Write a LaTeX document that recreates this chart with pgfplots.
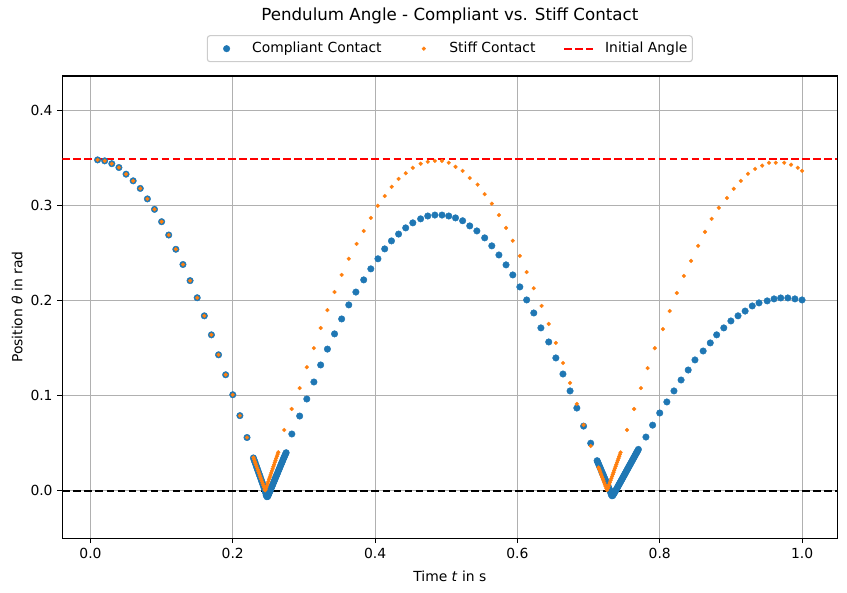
\documentclass[border=0pt]{standalone}
\usepackage{fontspec}
\setmainfont{DejaVu Sans}
\usepackage{pgfplots}
\pgfplotsset{compat=1.18}
\definecolor{mplblue}{HTML}{1F77B4}
\definecolor{mplorange}{HTML}{FF7F0E}
\definecolor{gridgray}{HTML}{B0B0B0}
\definecolor{legframe}{HTML}{CCCCCC}
\pgfplotsset{
  markleg/.style={legend image code/.code={\path (0pt,0pt) (20pt,0pt); \draw[##1] plot coordinates {(10pt,0pt)};}},
  lineleg/.style={legend image code/.code={\draw[##1] (0pt,0pt) -- (20.6pt,0pt);}},
}
\begin{document}
\begin{tikzpicture}
\begin{axis}[
  name=ax,
  scale only axis,
  width=558pt, height=332.9pt,
  xmin=-0.0395, xmax=1.0495,
  ymin=-0.05, ymax=0.4363,
  xtick={0,0.2,0.4,0.6,0.8,1.0},
  ytick={0,0.1,0.2,0.3,0.4},
  /pgf/number format/assume math mode=true,
  xticklabel style={/pgf/number format/.cd, fixed, fixed zerofill, precision=1},
  yticklabel style={/pgf/number format/.cd, fixed, fixed zerofill, precision=1},
  tick label style={font=\fontsize{10}{12}\selectfont},
  tick align=outside,
  tick pos=left,
  major tick length=3.5pt,
  every tick/.style={black, line width=0.8pt},
  axis line style={line width=0.8pt},
  grid=major,
  major grid style={gridgray, line width=0.8pt},
  title={Pendulum Angle - Compliant vs. Stiff Contact},
  title style={font=\fontsize{12}{14}\selectfont, at={(axis description cs:0.5,1)}, anchor=center, yshift=37.4pt},
  xlabel={Time \textit{t} in s},
  ylabel={Position \textit{θ} in rad},
  xlabel style={font=\fontsize{10}{12}\selectfont, at={(axis description cs:0.5,-0.0815)}, anchor=center},
  ylabel style={font=\fontsize{10}{12}\selectfont, at={(axis description cs:-0.0584,0.5)}, anchor=center},
  legend columns=3,
  legend style={
    at={(axis description cs:0.5,1)}, anchor=south, yshift=9.9pt,
    draw=legframe, line width=0.8pt, rounded corners=2pt, fill=white,
    font=\fontsize{10}{12}\selectfont,
    inner xsep=3.5pt, inner ysep=2.8pt,
    nodes={inner xsep=0pt, inner ysep=2pt},
    /tikz/every odd column/.append style={column sep=8pt},
    /tikz/every even column/.append style={column sep=20pt},
  },
]
% initial angle line (drawn below points)
\addplot[red, line width=1.5pt, dash pattern=on 5.55pt off 2.4pt, forget plot] coordinates {(-0.0395,0.3491) (1.0495,0.3491)};

% Compliant contact
\addplot[mplblue, only marks, mark=*, mark size=2.35pt, mark options={solid, draw=mplblue, fill=mplblue, line width=0.3pt}, markleg]
coordinates {
(0.01,0.348)(0.02,0.347)(0.03,0.344)(0.04,0.340)(0.05,0.333)(0.06,0.326)(0.07,0.318)(0.08,0.307)(0.09,0.296)(0.10,0.283)(0.11,0.269)(0.12,0.254)(0.13,0.238)(0.14,0.221)(0.15,0.203)(0.16,0.184)(0.17,0.164)(0.18,0.143)(0.19,0.122)(0.20,0.101)(0.21,0.079)(0.22,0.056)
(0.229,0.0345)(0.230,0.0324)(0.231,0.0303)(0.232,0.0282)(0.233,0.0261)(0.234,0.0240)(0.235,0.0219)(0.236,0.0198)(0.237,0.0177)(0.238,0.0156)(0.239,0.0135)(0.240,0.0114)(0.241,0.0093)(0.242,0.0072)(0.243,0.0051)(0.244,0.0030)(0.245,0.0008)(0.246,-0.0020)(0.247,-0.0048)(0.248,-0.0063)(0.249,-0.0060)(0.250,-0.0045)(0.251,-0.0027)(0.252,-0.0009)(0.253,0.0009)(0.254,0.0027)(0.255,0.0045)(0.256,0.0063)(0.257,0.0081)(0.258,0.0099)(0.259,0.0117)(0.260,0.0135)(0.261,0.0153)(0.262,0.0171)(0.263,0.0189)(0.264,0.0207)(0.265,0.0225)(0.266,0.0243)(0.267,0.0261)(0.268,0.0279)(0.269,0.0297)(0.270,0.0315)(0.271,0.0333)(0.272,0.0350)(0.273,0.0367)(0.274,0.0384)(0.275,0.0400)
(0.283,0.0597)(0.294,0.0786)(0.304,0.0965)(0.314,0.1144)(0.3235,0.1323)(0.333,0.149)(0.343,0.165)(0.353,0.1807)(0.363,0.1955)(0.373,0.209)(0.384,0.2218)(0.394,0.2334)(0.404,0.244)(0.4135,0.2544)(0.423,0.2628)(0.433,0.270)(0.443,0.2765)(0.453,0.2818)(0.464,0.286)(0.474,0.289)(0.484,0.290)(0.494,0.290)(0.5035,0.289)(0.513,0.287)(0.523,0.284)(0.533,0.2786)(0.543,0.2733)(0.554,0.266)(0.564,0.2576)(0.574,0.248)(0.584,0.2376)(0.5935,0.227)(0.6034,0.2144)(0.613,0.2007)(0.623,0.187)(0.633,0.1713)(0.644,0.1565)(0.654,0.1397)(0.664,0.1228)(0.674,0.105)(0.6835,0.087)(0.693,0.068)(0.703,0.050)
(0.712,0.0316)(0.713,0.0299)(0.714,0.0281)(0.715,0.0264)(0.716,0.0246)(0.717,0.0229)(0.718,0.0211)(0.719,0.0194)(0.720,0.0176)(0.721,0.0159)(0.722,0.0141)(0.723,0.0124)(0.724,0.0106)(0.725,0.0089)(0.726,0.0071)(0.727,0.0054)(0.728,0.0036)(0.729,0.0019)(0.730,0.0001)(0.731,-0.0020)(0.732,-0.0042)(0.733,-0.0053)(0.734,-0.0050)(0.735,-0.0038)(0.736,-0.0025)(0.737,-0.0012)(0.738,0.0001)(0.739,0.0014)(0.740,0.0027)(0.741,0.0041)(0.742,0.0055)(0.743,0.0068)(0.744,0.0082)(0.745,0.0095)(0.746,0.0109)(0.747,0.0122)(0.748,0.0136)(0.749,0.0150)(0.750,0.0163)(0.751,0.0177)(0.752,0.0190)(0.753,0.0204)(0.754,0.0218)(0.755,0.0231)(0.756,0.0245)(0.757,0.0258)(0.758,0.0272)(0.759,0.0285)(0.760,0.0299)(0.761,0.0313)(0.762,0.0326)(0.763,0.0340)(0.764,0.0353)(0.765,0.0367)(0.766,0.0381)(0.767,0.0394)(0.768,0.0408)(0.769,0.0421)(0.770,0.0435)
(0.7806,0.0565)(0.790,0.069)(0.800,0.0818)(0.810,0.0934)(0.820,0.105)(0.830,0.1165)(0.840,0.127)(0.8495,0.1376)(0.861,0.147)(0.871,0.1555)(0.880,0.164)(0.890,0.1713)(0.900,0.1786)(0.910,0.184)(0.920,0.189)(0.930,0.1944)(0.9395,0.1976)(0.951,0.1997)(0.9606,0.2018)(0.970,0.2028)(0.980,0.2028)(0.990,0.2018)(1.0,0.2007)
};
\addlegendentry{Compliant Contact}

% Stiff contact
\addplot[mplorange, only marks, mark=*, mark size=1.4pt, mark options={solid, draw=mplorange, fill=mplorange, line width=0.2pt}, markleg]
coordinates {
(0.01,0.348)(0.02,0.347)(0.03,0.344)(0.04,0.340)(0.05,0.333)(0.06,0.326)(0.07,0.318)(0.08,0.307)(0.09,0.296)(0.10,0.283)(0.11,0.269)(0.12,0.254)(0.13,0.238)(0.14,0.221)(0.15,0.203)(0.16,0.184)(0.17,0.164)(0.18,0.143)(0.19,0.122)(0.20,0.101)(0.21,0.079)(0.22,0.056)
(0.229,0.0350)(0.230,0.0329)(0.231,0.0308)(0.232,0.0287)(0.233,0.0266)(0.234,0.0245)(0.235,0.0224)(0.236,0.0203)(0.237,0.0182)(0.238,0.0161)(0.239,0.0140)(0.240,0.0119)(0.241,0.0098)(0.242,0.0077)(0.243,0.0056)(0.244,0.0035)(0.245,0.0014)(0.2455,0.0004)(0.246,0.0012)(0.247,0.0033)(0.248,0.0055)(0.249,0.0077)(0.250,0.0099)(0.251,0.0121)(0.252,0.0143)(0.253,0.0165)(0.254,0.0187)(0.255,0.0209)(0.256,0.0231)(0.257,0.0253)(0.258,0.0275)(0.259,0.0297)(0.260,0.0319)(0.261,0.0341)(0.262,0.0363)(0.263,0.0385)(0.264,0.0405)
(0.2724,0.0639)(0.2827,0.086)(0.294,0.108)(0.304,0.130)(0.314,0.150)(0.3235,0.1712)(0.333,0.190)(0.343,0.209)(0.353,0.227)(0.363,0.244)(0.374,0.2596)(0.384,0.2733)(0.394,0.287)(0.4037,0.2997)(0.4135,0.310)(0.4233,0.3197)(0.433,0.328)(0.443,0.334)(0.453,0.3397)(0.464,0.344)(0.474,0.346)(0.484,0.347)(0.494,0.347)(0.5035,0.345)(0.513,0.3407)(0.523,0.3365)(0.533,0.329)(0.544,0.322)(0.554,0.312)(0.564,0.302)(0.574,0.290)(0.584,0.2765)(0.5935,0.263)(0.6034,0.247)(0.613,0.230)(0.623,0.213)(0.634,0.1944)(0.644,0.1755)(0.654,0.1555)(0.664,0.1344)(0.674,0.1134)(0.6835,0.0913)(0.693,0.0692)(0.703,0.047)
(0.714,0.0245)(0.715,0.0225)(0.716,0.0205)(0.717,0.0185)(0.718,0.0165)(0.719,0.0145)(0.720,0.0125)(0.721,0.0105)(0.722,0.0085)(0.723,0.0065)(0.724,0.0045)(0.725,0.0025)(0.726,0.0008)(0.727,0.0025)(0.728,0.0046)(0.729,0.0067)(0.730,0.0088)(0.731,0.0109)(0.732,0.0130)(0.733,0.0151)(0.734,0.0172)(0.735,0.0193)(0.736,0.0214)(0.737,0.0235)(0.738,0.0256)(0.739,0.0277)(0.740,0.0298)(0.741,0.0319)(0.742,0.0340)(0.743,0.0361)(0.744,0.0382)(0.745,0.0403)
(0.754,0.064)(0.764,0.086)(0.7735,0.108)(0.783,0.129)(0.793,0.150)(0.8045,0.170)(0.814,0.189)(0.824,0.208)(0.834,0.226)(0.844,0.2418)(0.854,0.2576)(0.8636,0.2723)(0.873,0.286)(0.883,0.2976)(0.8945,0.308)(0.904,0.3176)(0.914,0.326)(0.924,0.3334)(0.934,0.3386)(0.944,0.342)(0.9536,0.345)(0.963,0.345)(0.975,0.345)(0.9845,0.343)(0.994,0.3397)(1.0,0.3365)
};
\addlegendentry{Stiff Contact}

\addlegendimage{red, line width=1.5pt, dash pattern=on 5.55pt off 2.4pt, lineleg}
\addlegendentry{Initial Angle}

% zero line
\addplot[black, line width=1.5pt, dash pattern=on 5.55pt off 2.4pt, forget plot] coordinates {(-0.0395,0) (1.0495,0)};
\end{axis}
\pgfresetboundingbox
\path (ax.south west) ++(-44.9pt,-38.7pt);
\path (ax.north east) ++(7.0pt,54.7pt);
\end{tikzpicture}
\end{document}
